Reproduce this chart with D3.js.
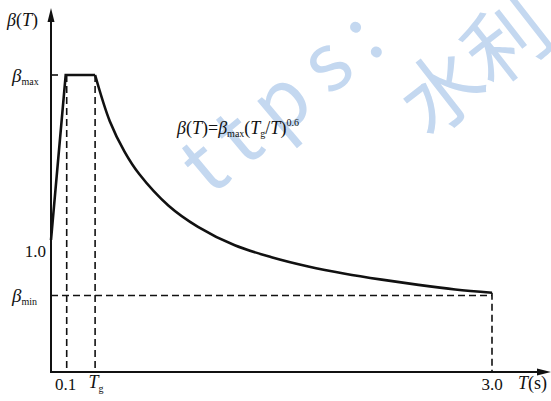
<!DOCTYPE html>
<html>
<head>
<meta charset="utf-8">
<script src="https://cdn.jsdelivr.net/npm/d3@7"></script>
<style>
  body { margin: 0; background: #fff; }
  svg { display: block; }
  .lbl { font-family: "Liberation Serif", "DejaVu Serif", serif; fill: #111; }
</style>
</head>
<body>
<div id="demo"></div>
<script>
// values (beta in units where beta_max = 2.25)
var betaMax = 2.25;
var betaMin = 0.58;
var beta0 = 1.0;
var T1 = 0.1;
var Tg = 0.3;
var Tend = 3.0;

var riseT = [0, T1, Tg];
var riseB = [beta0, betaMax, betaMax];

var decayT = [0.3, 0.4, 0.5, 0.6, 0.8, 1.0, 1.25, 1.5, 1.75, 2.0, 2.25, 2.5, 2.75, 3.0];
var decayB = [2.25, 1.9, 1.67, 1.5, 1.26, 1.1, 0.96, 0.87, 0.80, 0.745, 0.70, 0.66, 0.625, 0.60];

var xTicks = ['0.1', 'Tg', '3.0'];

var svg = d3.select('#demo').append('svg')
  .attr('width', 551)
  .attr('height', 401);

var x = d3.scaleLinear().domain([0, 3]).range([51, 492]);
var y = d3.scaleLinear().domain([0, betaMax]).range([372, 75]);

// watermark
var wm = svg.append('g').attr('fill', '#c4d8f0')
  .style('font-family', '"Noto Sans CJK SC", "Noto Sans", sans-serif');
wm.append('text')
  .attr('transform', 'translate(400,38) rotate(-40)')
  .attr('text-anchor', 'end')
  .style('font-size', '80px')
  .style('letter-spacing', '16px')
  .text('ttps:');
wm.append('text')
  .attr('transform', 'translate(428,140) rotate(-38)')
  .style('font-size', '82px')
  .text('水利');

// dashed guides
var dash = svg.append('g')
  .attr('stroke', '#111')
  .attr('stroke-width', 1.6)
  .attr('stroke-dasharray', '7,4')
  .attr('fill', 'none');

dash.append('line').attr('x1', x(0)).attr('x2', x(0.05)).attr('y1', y(betaMax)).attr('y2', y(betaMax));
dash.append('line').attr('x1', x(T1) + 1).attr('x2', x(T1) + 1).attr('y1', y(betaMax)).attr('y2', y(0));
dash.append('line').attr('x1', x(Tg)).attr('x2', x(Tg)).attr('y1', y(betaMax)).attr('y2', y(0));
dash.append('line').attr('x1', x(0)).attr('x2', x(Tend)).attr('y1', y(betaMin)).attr('y2', y(betaMin));
dash.append('line').attr('x1', x(Tend)).attr('x2', x(Tend)).attr('y1', y(decayB[decayB.length - 1])).attr('y2', y(0));

// axes
var ax = svg.append('g').attr('stroke', '#111').attr('stroke-width', 2);
ax.append('line').attr('x1', x(0)).attr('x2', x(0)).attr('y1', y(0) + 1).attr('y2', 14);
ax.append('line').attr('x1', x(0) - 1).attr('x2', 544).attr('y1', y(0)).attr('y2', y(0));
svg.append('path')
  .attr('d', 'M' + x(0) + ',8 L' + (x(0) - 3.5) + ',22 L' + (x(0) + 3.5) + ',22 Z')
  .attr('fill', '#111');
svg.append('path')
  .attr('d', 'M551,' + y(0) + ' L537,' + (y(0) - 3.5) + ' L537,' + (y(0) + 3.5) + ' Z')
  .attr('fill', '#111');

// spectrum
var line = d3.line().x(function (d) { return x(d[0]); }).y(function (d) { return y(d[1]); });
svg.append('path')
  .datum(d3.zip(riseT, riseB))
  .attr('d', line)
  .attr('fill', 'none').attr('stroke', '#111').attr('stroke-width', 2.6)
  .attr('stroke-linejoin', 'miter');
svg.append('path')
  .datum(d3.zip(decayT, decayB))
  .attr('d', line.curve(d3.curveCatmullRom))
  .attr('fill', 'none').attr('stroke', '#111').attr('stroke-width', 2.6);

// labels
function beta(g, sub, xp, yp) {
  var t = g.append('text').attr('class', 'lbl').attr('x', xp).attr('y', yp).style('font-size', '19px');
  t.append('tspan').style('font-style', 'italic').text('β');
  t.append('tspan').attr('dy', 3).style('font-size', '10px').text(sub);
  return t;
}

var yl = svg.append('g');
var t0 = yl.append('text').attr('class', 'lbl').attr('x', 7).attr('y', 26).style('font-size', '18px');
t0.append('tspan').style('font-style', 'italic').text('β');
t0.append('tspan').text('(');
t0.append('tspan').style('font-style', 'italic').text('T');
t0.append('tspan').text(')');

beta(yl, 'max', 12, y(betaMax) + 7);
beta(yl, 'min', 12, y(betaMin) + 7);
yl.append('text').attr('class', 'lbl').attr('x', 46).attr('y', y(beta0) + 17)
  .attr('text-anchor', 'end').style('font-size', '17px').text('1.0');

// x tick labels
var xl = svg.append('g');
xl.append('text').attr('class', 'lbl').attr('x', x(T1)).attr('y', 390)
  .attr('text-anchor', 'middle').style('font-size', '17px').text(xTicks[0]);
var tg = xl.append('text').attr('class', 'lbl').attr('x', x(Tg) + 1).attr('y', 388)
  .attr('text-anchor', 'middle').style('font-size', '18px');
tg.append('tspan').style('font-style', 'italic').text('T');
tg.append('tspan').attr('dy', 4).style('font-size', '10px').text('g');
xl.append('text').attr('class', 'lbl').attr('x', x(Tend)).attr('y', 390)
  .attr('text-anchor', 'middle').style('font-size', '17px').text(xTicks[2]);
var ts = xl.append('text').attr('class', 'lbl').attr('x', 518).attr('y', 389).style('font-size', '18px');
ts.append('tspan').style('font-style', 'italic').text('T');
ts.append('tspan').text('(s)');

// formula
var f = svg.append('text').attr('class', 'lbl').attr('x', 177).attr('y', 134).style('font-size', '18px');
f.append('tspan').style('font-style', 'italic').text('β');
f.append('tspan').text('(');
f.append('tspan').style('font-style', 'italic').text('T');
f.append('tspan').text(')=');
f.append('tspan').style('font-style', 'italic').text('β');
f.append('tspan').attr('dy', 3).style('font-size', '10px').text('max');
f.append('tspan').attr('dy', -3).text('(');
f.append('tspan').style('font-style', 'italic').text('T');
f.append('tspan').attr('dy', 3).style('font-size', '10px').text('g');
f.append('tspan').attr('dy', -3).text('/');
f.append('tspan').style('font-style', 'italic').text('T');
f.append('tspan').text(')');
f.append('tspan').attr('dy', -8).style('font-size', '10px').text('0.6');
</script>
</body>
</html>
